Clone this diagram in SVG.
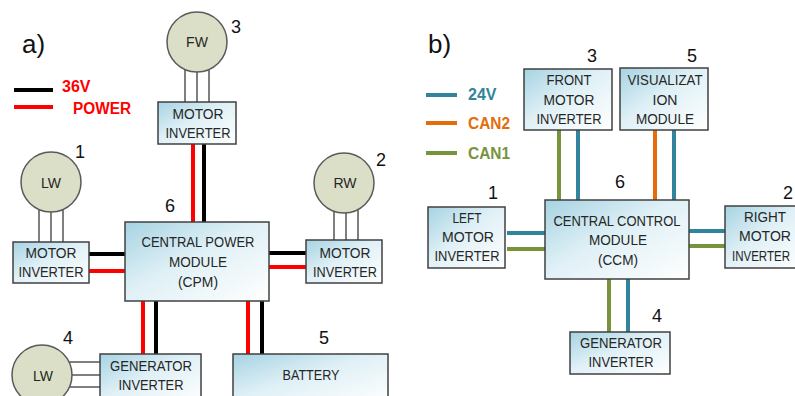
<svg xmlns="http://www.w3.org/2000/svg" width="795" height="396" viewBox="0 0 795 396">
<defs>
<linearGradient id="bg" x1="0" y1="0" x2="1" y2="1">
<stop offset="0" stop-color="#a6d3e2"/>
<stop offset="0.45" stop-color="#dff0f6"/>
<stop offset="1" stop-color="#ffffff"/>
</linearGradient>
</defs>
<style>
.box{fill:url(#bg);stroke:#404040;stroke-width:1.5}
.whl{fill:#dcdfc7;stroke:#5a5a5a;stroke-width:1.5}
.ph{stroke:#555;stroke-width:1.5;fill:none}
.t{font-family:"Liberation Sans",Arial,sans-serif;font-size:15.5px;fill:#262626;text-anchor:middle}
.w{font-family:"Liberation Sans",Arial,sans-serif;font-size:14px;fill:#262626;text-anchor:middle}
.n{font-family:"Liberation Sans",Arial,sans-serif;font-size:18px;fill:#111;text-anchor:middle}
.p{font-family:"Liberation Sans",Arial,sans-serif;font-size:26px;fill:#111}
.lg{font-family:"Liberation Sans",Arial,sans-serif;font-size:16px;font-weight:bold}
.k{stroke:#000;stroke-width:4}
.r{stroke:#ff0000;stroke-width:4}
.tl{stroke:#31849b;stroke-width:4}
.or{stroke:#e46c0a;stroke-width:4}
.gr{stroke:#77933c;stroke-width:4}
</style>
<rect width="795" height="396" fill="#fff"/>

<!-- panel a -->
<text class="p" x="22" y="53">a)</text>
<g id="legend-a">
<line class="k" x1="14" y1="90" x2="53" y2="90"/>
<line class="r" x1="14" y1="107" x2="53" y2="107"/>
<text class="lg" x="62" y="92" fill="#ff0000">36V</text>
<text class="lg" x="73" y="114" fill="#ff0000" textLength="58" lengthAdjust="spacingAndGlyphs">POWER</text>
</g>

<g id="connectors-a">
<line class="r" x1="193" y1="144" x2="193" y2="222"/>
<line class="k" x1="204" y1="144" x2="204" y2="222"/>
<line class="k" x1="89" y1="254" x2="126" y2="254"/>
<line class="r" x1="89" y1="271" x2="126" y2="271"/>
<line class="k" x1="269" y1="253" x2="306" y2="253"/>
<line class="r" x1="269" y1="267" x2="306" y2="267"/>
<line class="r" x1="143" y1="301" x2="143" y2="354"/>
<line class="k" x1="156" y1="301" x2="156" y2="354"/>
<line class="r" x1="248" y1="301" x2="248" y2="354"/>
<line class="k" x1="262" y1="301" x2="262" y2="354"/>
<path class="ph" d="M185 62V102M197 62V102M209 62V102"/>
<path class="ph" d="M39 200V242M51 200V242M63 200V242"/>
<path class="ph" d="M334 200V240M346 200V240M358 200V240"/>
<path class="ph" d="M60 362H100M60 375H100M60 387H100"/>
</g>

<g id="fw">
<circle class="whl" cx="197" cy="42" r="30"/>
<text class="w" x="197" y="47">FW</text>
<text class="n" x="236" y="33">3</text>
</g>
<g id="fw-inverter">
<rect class="box" x="158" y="102" width="78" height="42"/>
<text class="t" x="198" y="119" textLength="51" lengthAdjust="spacingAndGlyphs">MOTOR</text>
<text class="t" x="198" y="138" textLength="65" lengthAdjust="spacingAndGlyphs">INVERTER</text>
</g>
<g id="lw">
<circle class="whl" cx="51" cy="182" r="30"/>
<text class="w" x="51" y="188">LW</text>
<text class="n" x="80" y="158">1</text>
</g>
<g id="lw-inverter">
<rect class="box" x="13" y="242" width="76" height="41"/>
<text class="t" x="51" y="258" textLength="51" lengthAdjust="spacingAndGlyphs">MOTOR</text>
<text class="t" x="51" y="277" textLength="65" lengthAdjust="spacingAndGlyphs">INVERTER</text>
</g>
<g id="cpm">
<rect class="box" x="125" y="222" width="144" height="79"/>
<text class="t" x="198" y="247" textLength="113" lengthAdjust="spacingAndGlyphs">CENTRAL POWER</text>
<text class="t" x="198" y="267" textLength="58" lengthAdjust="spacingAndGlyphs">MODULE</text>
<text class="t" x="198" y="287" textLength="40" lengthAdjust="spacingAndGlyphs">(CPM)</text>
<text class="n" x="170" y="212">6</text>
</g>
<g id="rw">
<circle class="whl" cx="344" cy="183" r="30"/>
<text class="w" x="345" y="188">RW</text>
<text class="n" x="381" y="166">2</text>
</g>
<g id="rw-inverter">
<rect class="box" x="306" y="240" width="76" height="43"/>
<text class="t" x="345" y="258" textLength="51" lengthAdjust="spacingAndGlyphs">MOTOR</text>
<text class="t" x="345" y="277" textLength="64" lengthAdjust="spacingAndGlyphs">INVERTER</text>
</g>
<g id="lw-gen">
<circle class="whl" cx="42" cy="375" r="30"/>
<text class="w" x="43" y="381">LW</text>
<text class="n" x="68" y="344">4</text>
</g>
<g id="gen-inverter">
<rect class="box" x="100" y="354" width="101" height="50"/>
<text class="t" x="151" y="371" textLength="82" lengthAdjust="spacingAndGlyphs">GENERATOR</text>
<text class="t" x="151" y="390" textLength="65" lengthAdjust="spacingAndGlyphs">INVERTER</text>
</g>
<g id="battery">
<rect class="box" x="233" y="354" width="155" height="50"/>
<text class="t" x="311" y="380" textLength="57" lengthAdjust="spacingAndGlyphs">BATTERY</text>
<text class="n" x="324" y="344">5</text>
</g>

<!-- panel b -->
<text class="p" x="428" y="53">b)</text>
<g id="legend-b">
<line class="tl" x1="426" y1="95" x2="457" y2="95"/>
<line class="or" x1="426" y1="123" x2="457" y2="123"/>
<line class="gr" x1="426" y1="153" x2="457" y2="153"/>
<text class="lg" x="468" y="100" fill="#31849b">24V</text>
<text class="lg" x="468" y="129" fill="#e46c0a" textLength="42" lengthAdjust="spacingAndGlyphs">CAN2</text>
<text class="lg" x="468" y="159" fill="#77933c" textLength="42" lengthAdjust="spacingAndGlyphs">CAN1</text>
</g>

<g id="connectors-b">
<line class="gr" x1="559" y1="130" x2="559" y2="200"/>
<line class="tl" x1="578" y1="130" x2="578" y2="200"/>
<line class="or" x1="655" y1="130" x2="655" y2="200"/>
<line class="tl" x1="674" y1="130" x2="674" y2="200"/>
<line class="tl" x1="507" y1="233" x2="545" y2="233"/>
<line class="gr" x1="507" y1="249" x2="545" y2="249"/>
<line class="tl" x1="689" y1="231" x2="725" y2="231"/>
<line class="gr" x1="689" y1="246" x2="725" y2="246"/>
<line class="gr" x1="609" y1="279" x2="609" y2="332"/>
<line class="tl" x1="628" y1="279" x2="628" y2="332"/>
</g>

<g id="front-inverter">
<rect class="box" x="524" y="69" width="88" height="61"/>
<text class="t" x="569" y="85" textLength="45" lengthAdjust="spacingAndGlyphs">FRONT</text>
<text class="t" x="569" y="105" textLength="51" lengthAdjust="spacingAndGlyphs">MOTOR</text>
<text class="t" x="569" y="124" textLength="65" lengthAdjust="spacingAndGlyphs">INVERTER</text>
<text class="n" x="592" y="62">3</text>
</g>
<g id="visualization">
<rect class="box" x="620" y="68" width="88" height="62"/>
<text class="t" x="665" y="85" textLength="75" lengthAdjust="spacingAndGlyphs">VISUALIZAT</text>
<text class="t" x="665" y="105" textLength="25" lengthAdjust="spacingAndGlyphs">ION</text>
<text class="t" x="665" y="124" textLength="58" lengthAdjust="spacingAndGlyphs">MODULE</text>
<text class="n" x="692" y="62">5</text>
</g>
<g id="ccm">
<rect class="box" x="545" y="200" width="144" height="79"/>
<text class="t" x="617" y="226" textLength="127" lengthAdjust="spacingAndGlyphs">CENTRAL CONTROL</text>
<text class="t" x="618" y="245" textLength="58" lengthAdjust="spacingAndGlyphs">MODULE</text>
<text class="t" x="618" y="265" textLength="40" lengthAdjust="spacingAndGlyphs">(CCM)</text>
<text class="n" x="620" y="188">6</text>
</g>
<g id="left-inverter">
<rect class="box" x="428" y="207" width="77" height="61"/>
<text class="t" x="467" y="223" textLength="29" lengthAdjust="spacingAndGlyphs">LEFT</text>
<text class="t" x="468" y="242" textLength="52" lengthAdjust="spacingAndGlyphs">MOTOR</text>
<text class="t" x="467" y="261" textLength="65" lengthAdjust="spacingAndGlyphs">INVERTER</text>
<text class="n" x="493" y="199">1</text>
</g>
<g id="right-inverter">
<rect class="box" x="725" y="206" width="80" height="62"/>
<text class="t" x="765" y="222" textLength="42" lengthAdjust="spacingAndGlyphs">RIGHT</text>
<text class="t" x="765" y="241" textLength="52" lengthAdjust="spacingAndGlyphs">MOTOR</text>
<text class="t" x="761" y="261" textLength="58" lengthAdjust="spacingAndGlyphs">INVERTER</text>
<text class="n" x="788" y="199">2</text>
</g>
<g id="gen-inverter-b">
<rect class="box" x="570" y="332" width="100" height="42"/>
<text class="t" x="621" y="348" textLength="82" lengthAdjust="spacingAndGlyphs">GENERATOR</text>
<text class="t" x="621" y="367" textLength="65" lengthAdjust="spacingAndGlyphs">INVERTER</text>
<text class="n" x="657" y="322">4</text>
</g>
</svg>
